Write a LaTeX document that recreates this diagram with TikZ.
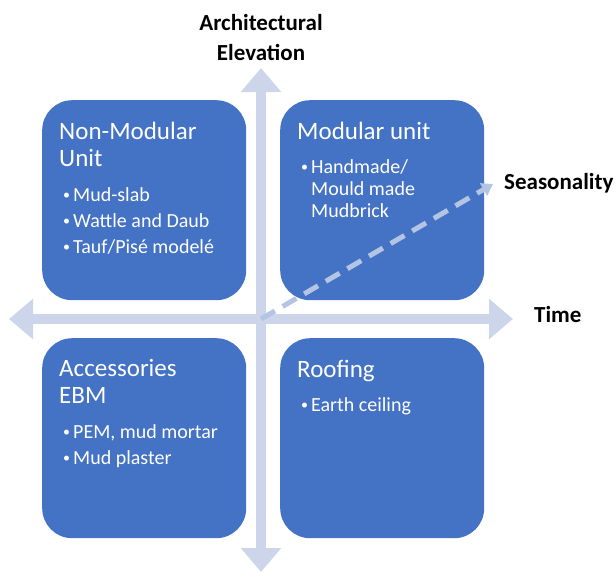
\documentclass[tikz,border=0pt]{standalone}
\usepackage{fontspec}
\setmainfont{Carlito}
\usetikzlibrary{arrows.meta}
\definecolor{boxblue}{HTML}{4472C4}
\definecolor{axisblue}{HTML}{CDD5EA}
\definecolor{dashblue}{HTML}{B4C5E4}
\newcommand{\dotitem}{\raisebox{1.5pt}{\fontsize{14}{14}\selectfont\textbullet}}

\begin{document}
\begin{tikzpicture}[x=1pt,y=-1pt]
\tikzstyle{quad}=[fill=boxblue, rounded corners=30pt, minimum width=204pt, minimum height=200pt, inner sep=0pt, anchor=north west]
\tikzstyle{title}=[text=white, font=\fontsize{25}{27}\selectfont, align=left, anchor=base west, inner sep=0pt]
\tikzstyle{items}=[text=white, font=\fontsize{20}{22}\selectfont, anchor=base west, inner sep=0pt]
\tikzstyle{axis}=[axisblue, line width=10pt, {Triangle[width=39pt,length=24pt]}-{Triangle[width=39pt,length=24pt]}]
\tikzstyle{axislabel}=[font=\bfseries\fontsize{23}{30}\selectfont, inner sep=0pt]

\useasboundingbox (0,0) rectangle (616,574);

% the four quadrants
\draw (42,100) node[quad] (nonmod) {};
\draw (280,100) node[quad] (mod) {};
\draw (42,338) node[quad] (acc) {};
\draw (280,338) node[quad] (roof) {};

% titles (base = last line)
\draw (59,166) node[title] (nonmodT) {Non-Modular\\Unit};
\draw (297,139) node[title] (modT) {Modular unit};
\draw (59,403) node[title] (accT) {Accessories\\EBM};
\draw (297,377) node[title] (roofT) {Roofing};

\draw (63,201) node[items] (nonmodL) {\begin{tabular}[t]{@{}p{10pt}@{}l@{}}
\dotitem & Mud-slab\\[4pt]
\dotitem & Wattle and Daub\\[4pt]
\dotitem & Tauf/Pisé modelé
\end{tabular}};
\draw (301,173) node[items] (modL) {\begin{tabular}[t]{@{}p{10pt}@{}l@{}}
\dotitem & Handmade/\\
 & Mould made\\
 & Mudbrick
\end{tabular}};
\draw (63,438) node[items] (accL) {\begin{tabular}[t]{@{}p{10pt}@{}l@{}}
\dotitem & PEM, mud mortar\\[4pt]
\dotitem & Mud plaster
\end{tabular}};
\draw (301,411) node[items] (roofL) {\begin{tabular}[t]{@{}p{10pt}@{}l@{}}
\dotitem & Earth ceiling
\end{tabular}};

% axes
\coordinate (west) at (9,319);
\coordinate (east) at (513,319);
\coordinate (north) at (261,68);
\coordinate (south) at (261,572);
\coordinate (origin) at (261,319);
\coordinate (season) at (493,184);

\draw[axis] (west) -- (east);
\draw[axis] (south) -- (north);
\draw[dashblue, line width=5pt, dash pattern=on 16pt off 9pt, -{Triangle[width=14pt,length=11pt]}] (origin) -- (season);

\draw (261,60) node[axislabel, anchor=base, align=center] (elev) {Architectural\\Elevation};
\draw (504,189) node[axislabel, anchor=base west] (seas) {Seasonality};
\draw (534,322) node[axislabel, anchor=base west] (time) {Time};
\end{tikzpicture}
\end{document}
